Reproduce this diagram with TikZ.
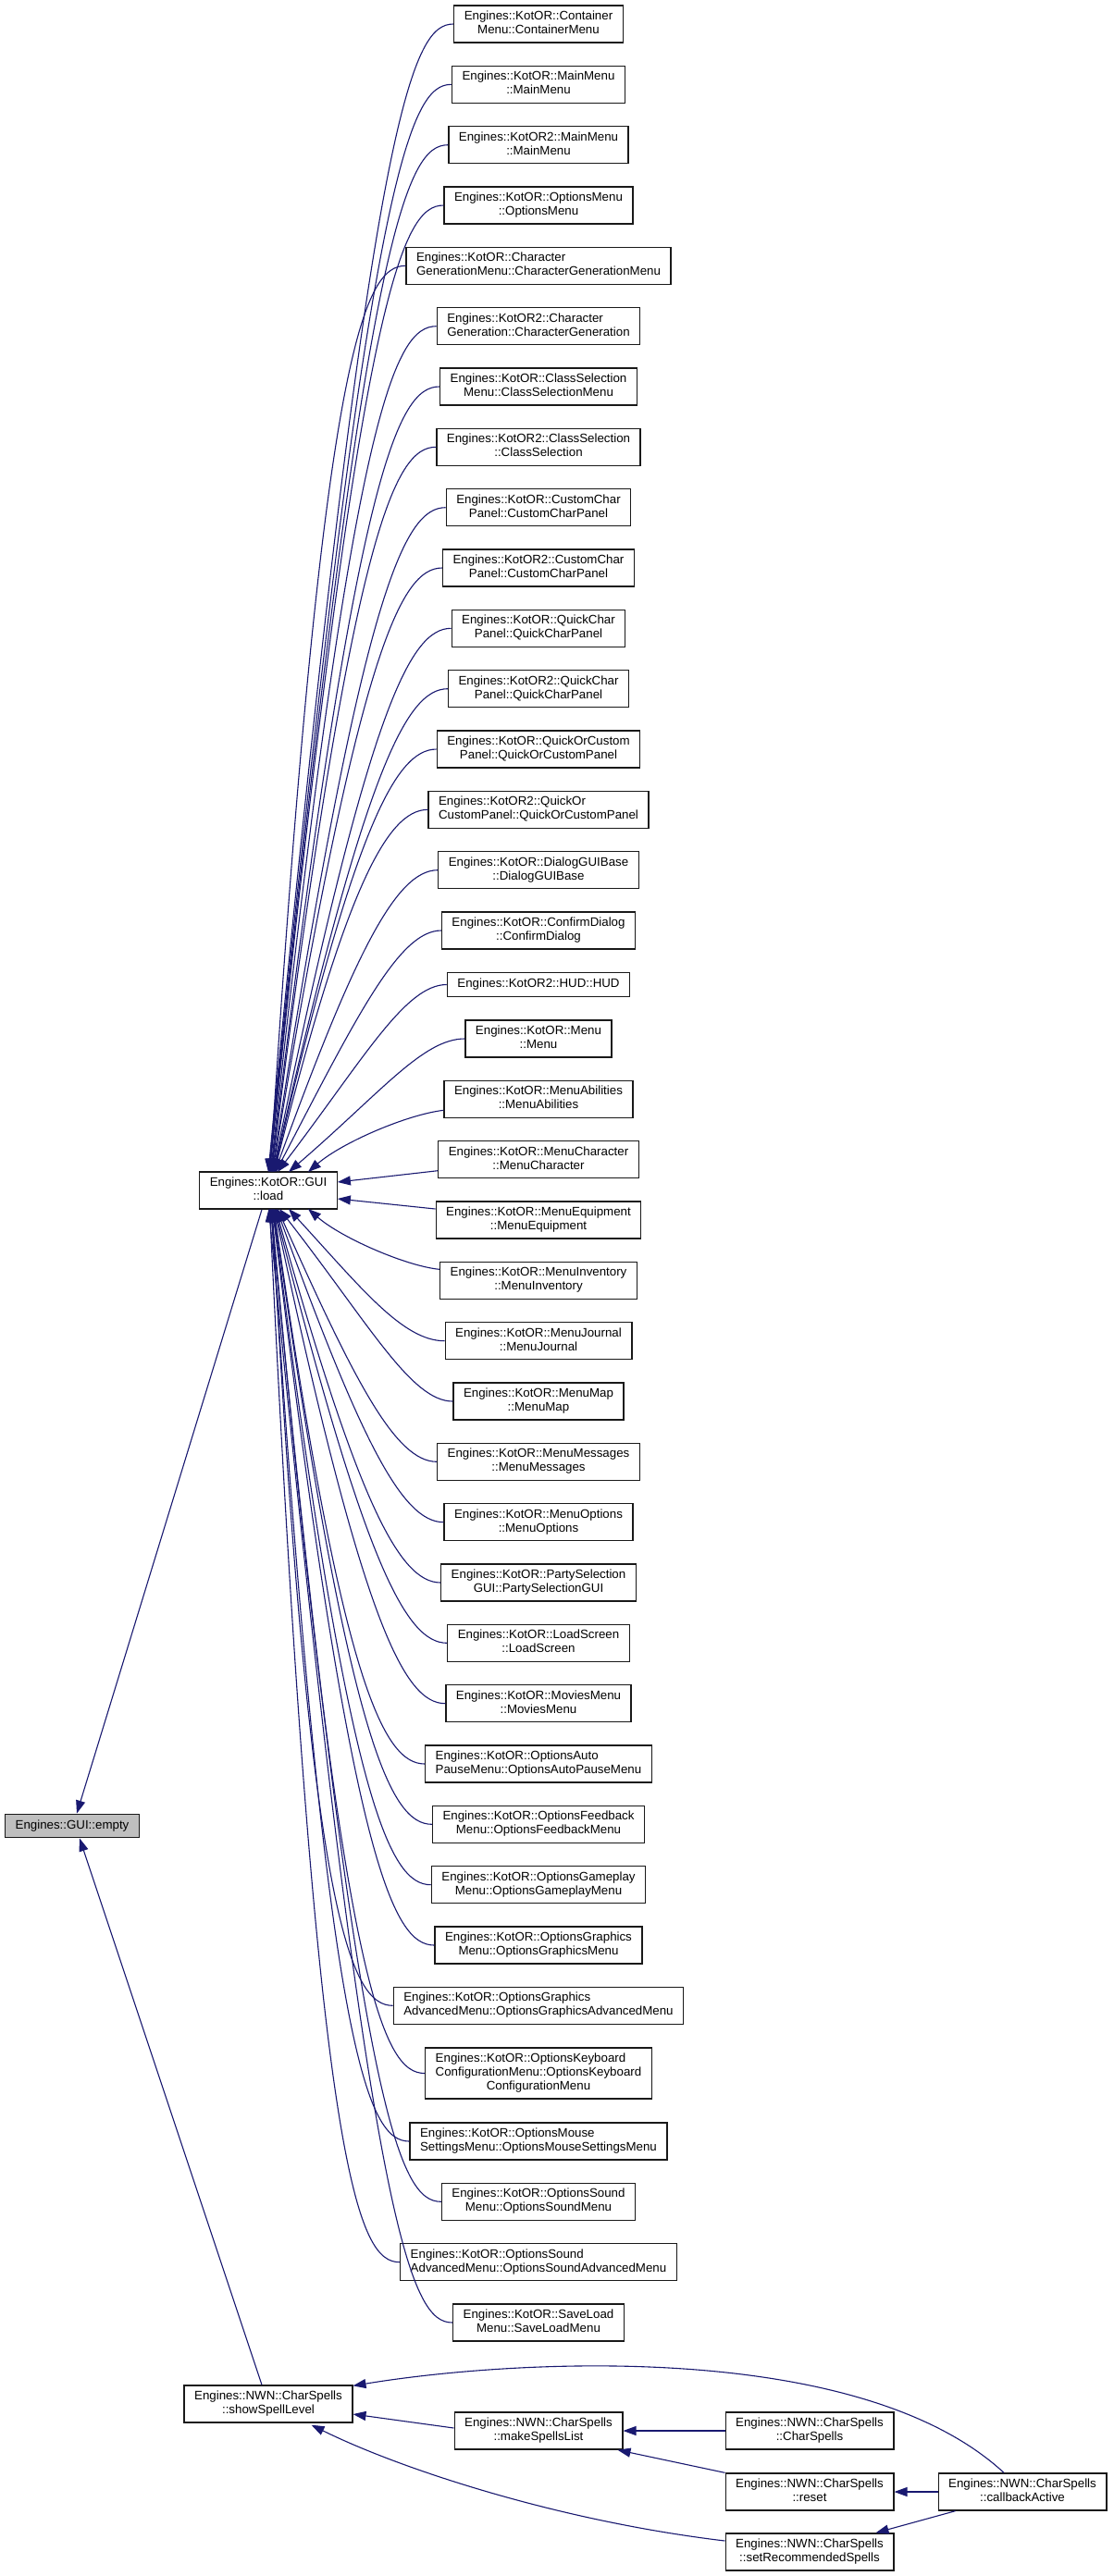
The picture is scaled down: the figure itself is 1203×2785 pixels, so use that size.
\documentclass[tikz,border=0pt]{standalone}
\usepackage{fontspec}
\setmainfont{Liberation Sans}
\usetikzlibrary{arrows.meta,calc}
\definecolor{edgeblue}{HTML}{191970}
\definecolor{emptygray}{HTML}{BFBFBF}
\newcommand\twol[2]{\begin{tabular}{@{}l@{}}#1\\\multicolumn{1}{@{}c@{}}{#2}\end{tabular}}
\newcommand\threel[3]{\begin{tabular}{@{}l@{}}#1\\#2\\\multicolumn{1}{@{}c@{}}{#3}\end{tabular}}
\begin{document}
\begin{tikzpicture}[x=1pt,y=1pt,
  font=\fontsize{13.3}{15}\selectfont,
  box/.style={draw=black!90,line width=1.35pt,fill=white,inner xsep=11pt,inner ysep=0pt,minimum height=40pt},
  onebox/.style={box,minimum height=25.5pt},
  tribox/.style={box,minimum height=55pt},
  emptybox/.style={onebox,fill=emptygray},
  edge/.style={draw=edgeblue,line width=1.1pt,{Triangle[length=14pt,width=10pt]}-}]
\fill[white] (0,0) rectangle (1203,-2785);
\useasboundingbox (0,0) rectangle (1203,-2785);

% rank 0 and 1
\node[emptybox] (empty) at (78,-1974) {Engines::GUI::empty};
\node[box] (load) at (290,-1287) {\twol{Engines::KotOR::GUI}{::load}};
\node[box] (ssl) at (290,-2599) {\twol{Engines::NWN::CharSpells}{::showSpellLevel}};

% rank 2
\node[box] (n1) at (582,-26) {\twol{Engines::KotOR::Container}{Menu::ContainerMenu}};
\node[box] (n2) at (582,-91.3) {\twol{Engines::KotOR::MainMenu}{::MainMenu}};
\node[box] (n3) at (582,-156.7) {\twol{Engines::KotOR2::MainMenu}{::MainMenu}};
\node[box] (n4) at (582,-222) {\twol{Engines::KotOR::OptionsMenu}{::OptionsMenu}};
\node[box] (n5) at (582,-287.3) {\twol{Engines::KotOR::Character}{GenerationMenu::CharacterGenerationMenu}};
\node[box] (n6) at (582,-352.7) {\twol{Engines::KotOR2::Character}{Generation::CharacterGeneration}};
\node[box] (n7) at (582,-418) {\twol{Engines::KotOR::ClassSelection}{Menu::ClassSelectionMenu}};
\node[box] (n8) at (582,-483.3) {\twol{Engines::KotOR2::ClassSelection}{::ClassSelection}};
\node[box] (n9) at (582,-548.7) {\twol{Engines::KotOR::CustomChar}{Panel::CustomCharPanel}};
\node[box] (n10) at (582,-614) {\twol{Engines::KotOR2::CustomChar}{Panel::CustomCharPanel}};
\node[box] (n11) at (582,-679.3) {\twol{Engines::KotOR::QuickChar}{Panel::QuickCharPanel}};
\node[box] (n12) at (582,-744.7) {\twol{Engines::KotOR2::QuickChar}{Panel::QuickCharPanel}};
\node[box] (n13) at (582,-810) {\twol{Engines::KotOR::QuickOrCustom}{Panel::QuickOrCustomPanel}};
\node[box] (n14) at (582,-875.3) {\twol{Engines::KotOR2::QuickOr}{CustomPanel::QuickOrCustomPanel}};
\node[box] (n15) at (582,-940.7) {\twol{Engines::KotOR::DialogGUIBase}{::DialogGUIBase}};
\node[box] (n16) at (582,-1006) {\twol{Engines::KotOR::ConfirmDialog}{::ConfirmDialog}};
\node[onebox] (hud) at (582,-1064.5) {Engines::KotOR2::HUD::HUD};
\node[box] (menu) at (582,-1123) {\twol{Engines::KotOR::Menu}{::Menu}};
\node[box] (abil) at (582,-1188.3) {\twol{Engines::KotOR::MenuAbilities}{::MenuAbilities}};
\node[box] (mchar) at (582,-1253.7) {\twol{Engines::KotOR::MenuCharacter}{::MenuCharacter}};
\node[box] (equip) at (582,-1319) {\twol{Engines::KotOR::MenuEquipment}{::MenuEquipment}};
\node[box] (inv) at (582,-1384.3) {\twol{Engines::KotOR::MenuInventory}{::MenuInventory}};
\node[box] (journal) at (582,-1449.7) {\twol{Engines::KotOR::MenuJournal}{::MenuJournal}};
\node[box] (map) at (582,-1515) {\twol{Engines::KotOR::MenuMap}{::MenuMap}};
\node[box] (messages) at (582,-1580.3) {\twol{Engines::KotOR::MenuMessages}{::MenuMessages}};
\node[box] (mopts) at (582,-1645.7) {\twol{Engines::KotOR::MenuOptions}{::MenuOptions}};
\node[box] (party) at (582,-1711) {\twol{Engines::KotOR::PartySelection}{GUI::PartySelectionGUI}};
\node[box] (loadscr) at (582,-1776.3) {\twol{Engines::KotOR::LoadScreen}{::LoadScreen}};
\node[box] (movies) at (582,-1841.7) {\twol{Engines::KotOR::MoviesMenu}{::MoviesMenu}};
\node[box] (auto) at (582,-1907) {\twol{Engines::KotOR::OptionsAuto}{PauseMenu::OptionsAutoPauseMenu}};
\node[box] (feedback) at (582,-1972.3) {\twol{Engines::KotOR::OptionsFeedback}{Menu::OptionsFeedbackMenu}};
\node[box] (gameplay) at (582,-2037.7) {\twol{Engines::KotOR::OptionsGameplay}{Menu::OptionsGameplayMenu}};
\node[box] (graphics) at (582,-2103) {\twol{Engines::KotOR::OptionsGraphics}{Menu::OptionsGraphicsMenu}};
\node[box] (gradv) at (582,-2168.3) {\twol{Engines::KotOR::OptionsGraphics}{AdvancedMenu::OptionsGraphicsAdvancedMenu}};
\node[tribox] (keyb) at (582,-2241.5) {\threel{Engines::KotOR::OptionsKeyboard}{ConfigurationMenu::OptionsKeyboard}{ConfigurationMenu}};
\node[box] (mouse) at (582,-2315) {\twol{Engines::KotOR::OptionsMouse}{SettingsMenu::OptionsMouseSettingsMenu}};
\node[box] (sound) at (582,-2380.3) {\twol{Engines::KotOR::OptionsSound}{Menu::OptionsSoundMenu}};
\node[box] (sndadv) at (582,-2445.7) {\twol{Engines::KotOR::OptionsSound}{AdvancedMenu::OptionsSoundAdvancedMenu}};
\node[box] (saveload) at (582,-2511) {\twol{Engines::KotOR::SaveLoad}{Menu::SaveLoadMenu}};
\node[box] (msl) at (582,-2628) {\twol{Engines::NWN::CharSpells}{::makeSpellsList}};

% rank 3 and 4
\node[box] (cs) at (875,-2628) {\twol{Engines::NWN::CharSpells}{::CharSpells}};
\node[box] (reset) at (875,-2694) {\twol{Engines::NWN::CharSpells}{::reset}};
\node[box] (srs) at (875,-2759) {\twol{Engines::NWN::CharSpells}{::setRecommendedSpells}};
\node[box] (cba) at (1105,-2694) {\twol{Engines::NWN::CharSpells}{::callbackActive}};

% edges into load from above
\foreach \nd/\ex in {n1/290,n2/290.5,n3/291,n4/291.5,n5/292,n6/292.5,n7/293,n8/293.5,n9/294,n10/294.5,n11/295,n12/295.5,n13/296,n14/296.5,n15/297,n16/298,hud/300,menu/312}{
  \draw[edge] let \p1=(\nd.west) in (\ex,-1267) .. controls ({\x1-90pt},{(\y1)-min(90pt,0.4*((\y1)+1267pt))}) and ({\x1-45pt},\y1) .. (\p1);
}
% edges into load from below
\foreach \nd/\ex in {journal/312,map/302,messages/300,mopts/299,party/298,loadscr/297,movies/296.5,auto/296,feedback/295.5,gameplay/295,graphics/294.5,gradv/294,keyb/293.5,mouse/293,sound/292.5,sndadv/291.5,saveload/290.5}{
  \draw[edge] let \p1=(\nd.west) in (\ex,-1307) .. controls ({\x1-90pt},{(\y1)+min(90pt,0.4*((-1307pt)-(\y1)))}) and ({\x1-45pt},\y1) .. (\p1);
}
\draw[edge] (333,-1267) .. controls (370,-1235) and (440,-1205) .. ([yshift=-12pt]abil.west);
\draw[edge] ([yshift=9pt]load.east) -- ([yshift=-12pt]mchar.west);
\draw[edge] ([yshift=-9pt]load.east) -- ([yshift=12pt]equip.west);
\draw[edge] (333,-1307) .. controls (370,-1339) and (440,-1369) .. ([yshift=12pt]inv.west);

% edges into empty
\draw[edge] ([xshift=5pt]empty.north) -- ([xshift=-7pt]load.south);
\draw[edge] ([xshift=8pt]empty.south) -- ([xshift=-7pt]ssl.north);

% NWN edges
\draw[edge] ([yshift=-11pt]ssl.east) -- ([yshift=3pt]msl.west);
\draw[edge] ([yshift=-1pt]ssl.north east) .. controls (560,-2550) and (930,-2530) .. ([xshift=-20pt]cba.north);
\draw[edge] ([xshift=-45pt,yshift=-2pt]ssl.south east) .. controls (430,-2668) and (600,-2725) .. ([yshift=12pt]srs.west);
\draw[edge] (msl.east) -- (cs.west);
\draw[edge] ([xshift=-6pt]msl.south east) -- (reset.north west);
\draw[edge] (reset.east) -- (cba.west);
\draw[edge] ([xshift=-20pt]srs.north east) -- ([xshift=19pt]cba.south west);
\end{tikzpicture}
\end{document}
